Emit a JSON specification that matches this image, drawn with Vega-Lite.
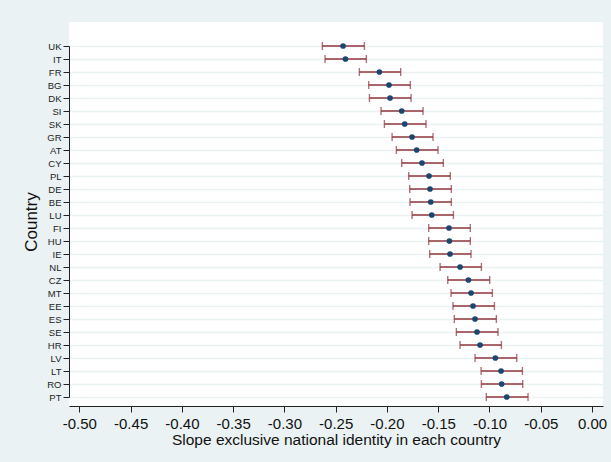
{
  "$schema": "https://vega.github.io/schema/vega-lite/v6.json",
  "width": 534,
  "height": 384,
  "autosize": {"type": "none"},
  "padding": {"left": 69, "top": 22, "right": 8, "bottom": 56},
  "background": "#eaf2f3",
  "config": {
    "font": "Liberation Sans",
    "view": {"fill": "white", "stroke": null}
  },
  "data": {
    "values": [
      {"country": "UK", "est": -0.2428, "lo": -0.2630, "hi": -0.2220},
      {"country": "IT", "est": -0.2405, "lo": -0.2604, "hi": -0.2201},
      {"country": "FR", "est": -0.2074, "lo": -0.2269, "hi": -0.1866},
      {"country": "BG", "est": -0.1980, "lo": -0.2178, "hi": -0.1772},
      {"country": "DK", "est": -0.1970, "lo": -0.2171, "hi": -0.1765},
      {"country": "SI", "est": -0.1856, "lo": -0.2058, "hi": -0.1648},
      {"country": "SK", "est": -0.1827, "lo": -0.2025, "hi": -0.1619},
      {"country": "GR", "est": -0.1755, "lo": -0.1950, "hi": -0.1551},
      {"country": "AT", "est": -0.1710, "lo": -0.1908, "hi": -0.1502},
      {"country": "CY", "est": -0.1658, "lo": -0.1856, "hi": -0.1450},
      {"country": "PL", "est": -0.1590, "lo": -0.1788, "hi": -0.1382},
      {"country": "DE", "est": -0.1580, "lo": -0.1778, "hi": -0.1372},
      {"country": "BE", "est": -0.1573, "lo": -0.1775, "hi": -0.1372},
      {"country": "LU", "est": -0.1563, "lo": -0.1755, "hi": -0.1352},
      {"country": "FI", "est": -0.1395, "lo": -0.1593, "hi": -0.1187},
      {"country": "HU", "est": -0.1391, "lo": -0.1593, "hi": -0.1187},
      {"country": "IE", "est": -0.1385, "lo": -0.1583, "hi": -0.1180},
      {"country": "NL", "est": -0.1287, "lo": -0.1482, "hi": -0.1079},
      {"country": "CZ", "est": -0.1206, "lo": -0.1407, "hi": -0.0998},
      {"country": "MT", "est": -0.1180, "lo": -0.1375, "hi": -0.0972},
      {"country": "EE", "est": -0.1161, "lo": -0.1356, "hi": -0.0952},
      {"country": "ES", "est": -0.1141, "lo": -0.1343, "hi": -0.0933},
      {"country": "SE", "est": -0.1122, "lo": -0.1323, "hi": -0.0917},
      {"country": "HR", "est": -0.1092, "lo": -0.1287, "hi": -0.0884},
      {"country": "LV", "est": -0.0943, "lo": -0.1141, "hi": -0.0734},
      {"country": "LT", "est": -0.0887, "lo": -0.1082, "hi": -0.0679},
      {"country": "RO", "est": -0.0881, "lo": -0.1079, "hi": -0.0676},
      {"country": "PT", "est": -0.0832, "lo": -0.1031, "hi": -0.0624}
    ]
  },
  "encoding": {
    "y": {
      "field": "country",
      "type": "ordinal",
      "sort": null,
      "scale": {"type": "point", "range": [24, 375], "padding": 0},
      "axis": {
        "title": "Country",
        "titleFont": "Liberation Sans",
        "titleFontSize": 17,
        "titleFontWeight": "normal",
        "titleColor": "#111",
        "titlePadding": 6,
        "labelFontSize": 9.5,
        "labelColor": "#222",
        "labelPadding": 2,
        "tickSize": 6,
        "tickColor": "#222",
        "domainColor": "#222",
        "grid": true,
        "gridColor": "#eaf2f3",
        "gridWidth": 1.5
      }
    }
  },
  "layer": [
    {
      "mark": {"type": "rule", "color": "#90353b", "strokeWidth": 1.4},
      "encoding": {
        "x": {
          "field": "lo",
          "type": "quantitative",
          "scale": {"domain": [-0.5101, 0.0107], "nice": false, "zero": false},
          "axis": {
            "title": "Slope exclusive national identity in each country",
            "titleFontSize": 15.5,
            "titleFontWeight": "normal",
            "titleColor": "#111",
            "titlePadding": 1,
            "values": [-0.5, -0.45, -0.4, -0.35, -0.3, -0.25, -0.2, -0.15, -0.1, -0.05, 0],
            "labelExpr": "replace(format(datum.value, '.2f'), '\u2212', '-')",
            "labelFontSize": 15,
            "labelColor": "#111",
            "labelPadding": 4,
            "labelFlush": false,
            "tickSize": 6,
            "tickColor": "#222",
            "domainColor": "#222",
            "grid": false
          }
        },
        "x2": {"field": "hi"}
      }
    },
    {
      "mark": {"type": "tick", "color": "#90353b", "thickness": 1.4, "size": 8, "orient": "vertical"},
      "encoding": {"x": {"field": "lo", "type": "quantitative"}}
    },
    {
      "mark": {"type": "tick", "color": "#90353b", "thickness": 1.4, "size": 8, "orient": "vertical"},
      "encoding": {"x": {"field": "hi", "type": "quantitative"}}
    },
    {
      "mark": {"type": "point", "filled": true, "shape": "circle", "color": "#1a476f", "opacity": 1, "size": 32},
      "encoding": {"x": {"field": "est", "type": "quantitative"}}
    }
  ]
}
